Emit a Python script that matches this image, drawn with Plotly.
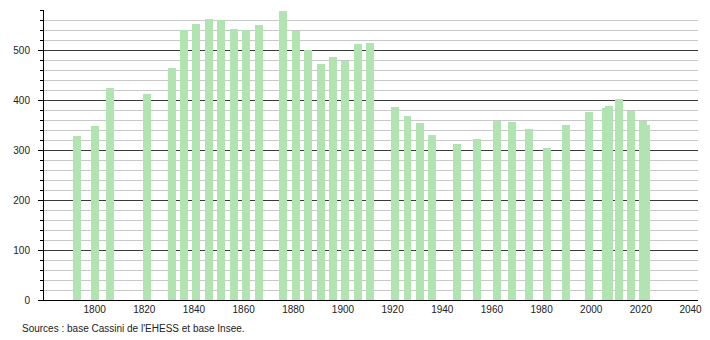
import plotly.graph_objects as go

years = [1793, 1800, 1806, 1821, 1831, 1836, 1841, 1846, 1851, 1856, 1861, 1866,
         1876, 1881, 1886, 1891, 1896, 1901, 1906, 1911, 1921, 1926, 1931, 1936,
         1946, 1954, 1962, 1968, 1975, 1982, 1990, 1999, 2006, 2007, 2011, 2016,
         2021, 2022]
population = [328, 348, 424, 412, 464, 540, 552, 562, 560, 542, 540, 550,
              579, 538, 501, 472, 486, 479, 512, 514, 386, 369, 355, 330,
              312, 322, 359, 356, 342, 304, 350, 376, 384, 388, 403, 379,
              359, 350]
x_ticks = [1800, 1820, 1840, 1860, 1880, 1900, 1920, 1940, 1960, 1980, 2000, 2020, 2040]
y_ticks = [0, 100, 200, 300, 400, 500]
source_text = "Sources : base Cassini de l'EHESS et base Insee."

fig = go.Figure()
fig.add_trace(go.Bar(
    x=years, y=population, width=3.2,
    marker=dict(color="#b2e4b2", line=dict(width=0)),
    hoverinfo="x+y",
))

font = dict(family="Liberation Sans, Arial, sans-serif", size=10, color="#222")

fig.update_layout(
    width=710, height=340,
    margin=dict(l=44, r=8, t=10, b=40),
    plot_bgcolor="white", paper_bgcolor="white",
    showlegend=False,
    font=font,
    bargap=0,
    xaxis=dict(
        range=[1779.6, 2043], tickvals=x_ticks, ticks="",
        showgrid=False, zeroline=False,
        showline=True, linecolor="black", linewidth=1,
        tickfont=font,
    ),
    yaxis=dict(
        range=[0, 580], tickvals=y_ticks, ticks="outside", ticklen=5,
        tickcolor="black", tickwidth=1,
        showgrid=True, gridcolor="#3a3a3a", gridwidth=1,
        zeroline=False, showline=True, linecolor="black", linewidth=1,
        ticklabelstandoff=6,
        tickfont=font,
        minor=dict(dtick=20, showgrid=True, gridcolor="#c8c8c8", gridwidth=1,
                   ticks="outside", ticklen=3, tickcolor="black"),
    ),
)

fig.add_annotation(
    text=source_text, xref="paper", yref="paper",
    x=-0.0365, y=-0.097, xanchor="left", yanchor="middle",
    showarrow=False, font=font,
)

fig.write_html("out.html")
